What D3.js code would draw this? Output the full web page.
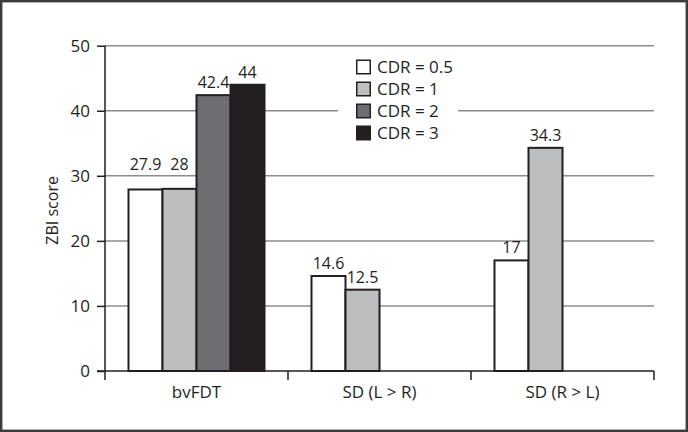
<!DOCTYPE html>
<html>
<head>
<meta charset="utf-8">
<script src="https://cdn.jsdelivr.net/npm/d3@7"></script>
<style>
  html, body { margin: 0; padding: 0; background: #fff; }
  svg { display: block; }
  text { font-family: "Open Sans", "Noto Sans", sans-serif; fill: #231f20; }
</style>
</head>
<body>
<svg id="chart" width="688" height="432"></svg>
<script>
// ---- data ----
const categories = ["bvFDT", "SD (L > R)", "SD (R > L)"];
const series = ["CDR = 0.5", "CDR = 1", "CDR = 2", "CDR = 3"];
const valuesCDR05 = [27.9, 14.6, 17];
const valuesCDR1  = [28, 12.5, 34.3];
const valuesCDR2  = [42.4, null, null];
const valuesCDR3  = [44, null, null];
const yTicks = [0, 10, 20, 30, 40, 50];
const yTitle = "ZBI score";

// ---- styles / layout ----
const colors = ["#ffffff", "#bcbec0", "#6d6e71", "#231f20"];
const seriesValues = [valuesCDR05, valuesCDR1, valuesCDR2, valuesCDR3];
// extra lift for a few value labels (label placement only)
const labelLift = { "0-0": 12, "0-1": 12 };

const svg = d3.select("#chart");
const W = 688, H = 432;

svg.append("rect")
  .attr("x", 1.2).attr("y", 1.2).attr("width", W - 2.4).attr("height", H - 2.4)
  .attr("fill", "#fff").attr("stroke", "#3c3c3c").attr("stroke-width", 2.4);

const mLeft = 105, mRight = 654, mTop = 45.7, mBottom = 371;

const y = d3.scaleLinear().domain([0, 50]).range([mBottom, mTop]);
const x0 = d3.scaleBand().domain(categories).range([mLeft, mRight]).padding(0);
const x1 = d3.scaleBand().domain(series).range([0, x0.bandwidth()])
  .paddingInner(0).paddingOuter(0.691);

// gridlines
svg.append("g").selectAll("line").data(yTicks.filter(t => t > 0)).join("line")
  .attr("x1", mLeft).attr("x2", mRight)
  .attr("y1", d => y(d)).attr("y2", d => y(d))
  .attr("stroke", "#8c8c8c").attr("stroke-width", 1.5);

// bars
const barData = [];
categories.forEach((c, ci) => {
  series.forEach((s, si) => {
    const v = seriesValues[si][ci];
    if (v != null) barData.push({ c, s, ci, si, v });
  });
});

svg.append("g").selectAll("rect").data(barData).join("rect")
  .attr("x", d => x0(d.c) + x1(d.s))
  .attr("y", d => y(d.v))
  .attr("width", x1.bandwidth())
  .attr("height", d => y(0) - y(d.v))
  .attr("fill", d => colors[d.si])
  .attr("stroke", "#231f20").attr("stroke-width", 2);

// value labels
svg.append("g").selectAll("text").data(barData).join("text")
  .attr("x", d => x0(d.c) + x1(d.s) + x1.bandwidth() / 2)
  .attr("y", d => y(d.v) - 7 - (labelLift[d.ci + "-" + d.si] || 0))
  .attr("text-anchor", "middle")
  .attr("font-size", 16)
  .text(d => d.v);

// legend
const legend = svg.append("g");
legend.append("rect")
  .attr("x", 338).attr("y", 54).attr("width", 120).attr("height", 90)
  .attr("fill", "#fff");
const lg = legend.selectAll("g").data(series).join("g")
  .attr("transform", (d, i) => `translate(356, ${59.5 + i * 22})`);
lg.append("rect")
  .attr("x", 0.75).attr("y", 0.75).attr("width", 13.5).attr("height", 13.5)
  .attr("fill", (d, i) => colors[i])
  .attr("stroke", "#231f20").attr("stroke-width", 1.5);
lg.append("text")
  .attr("x", 21).attr("y", 13.3)
  .attr("font-size", 17)
  .text(d => d);

// y axis
const yAxis = svg.append("g")
  .attr("transform", `translate(${mLeft},0)`)
  .call(d3.axisLeft(y).tickValues(yTicks).tickSize(8).tickPadding(7));
yAxis.select(".domain").remove();
yAxis.selectAll(".tick line").attr("stroke", "#231f20").attr("stroke-width", 1.5);
yAxis.selectAll(".tick text").attr("font-size", 17).attr("fill", "#231f20")
  .style("font-family", "'Open Sans', 'Noto Sans', sans-serif");
svg.append("line")
  .attr("x1", mLeft).attr("x2", mLeft)
  .attr("y1", y(50)).attr("y2", mBottom + 9)
  .attr("stroke", "#231f20").attr("stroke-width", 1.5);

// x axis
const xAxis = svg.append("g")
  .attr("transform", `translate(0,${mBottom})`)
  .call(d3.axisBottom(x0).tickSize(0).tickPadding(15));
xAxis.select(".domain").remove();
xAxis.selectAll(".tick text").attr("font-size", 17).attr("fill", "#231f20")
  .style("font-family", "'Open Sans', 'Noto Sans', sans-serif");
svg.append("line")
  .attr("x1", mLeft - 8).attr("x2", mRight)
  .attr("y1", mBottom).attr("y2", mBottom)
  .attr("stroke", "#231f20").attr("stroke-width", 1.5);
svg.append("g").selectAll("line").data(categories).join("line")
  .attr("x1", d => x0(d) + x0.bandwidth()).attr("x2", d => x0(d) + x0.bandwidth())
  .attr("y1", mBottom).attr("y2", mBottom + 9)
  .attr("stroke", "#231f20").attr("stroke-width", 1.5);

// y title
svg.append("text")
  .attr("transform", `translate(58, ${(mTop + mBottom) / 2 + 2}) rotate(-90)`)
  .attr("text-anchor", "middle")
  .attr("font-size", 16)
  .attr("fill", "#231f20")
  .text(yTitle);
</script>
</body>
</html>
